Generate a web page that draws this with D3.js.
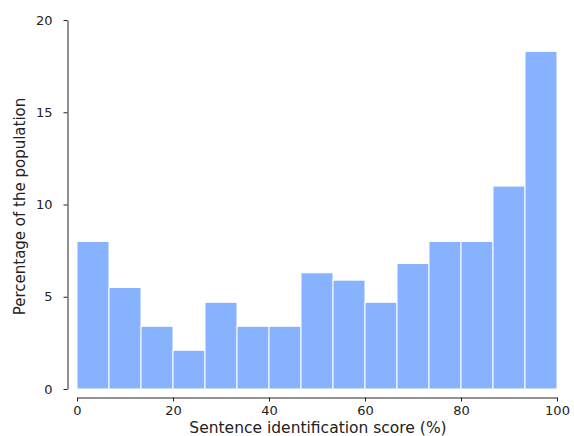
<!DOCTYPE html>
<html><head><meta charset="utf-8">
<script src="https://cdn.jsdelivr.net/npm/d3@7"></script>
<style>body{margin:0;background:#fff;} text{font-family:"DejaVu Sans",sans-serif;}</style>
</head><body>
<svg id="c" width="574" height="436"></svg>
<script>
const binEdges = d3.range(16).map(i => i * 100 / 15);
const percentages = [8.0, 5.5, 3.4, 2.1, 4.7, 3.4, 3.4, 6.3, 5.9, 4.7, 6.8, 8.0, 8.0, 11.0, 18.3];
const xTicks = [0, 20, 40, 60, 80, 100];
const yTicks = [0, 5, 10, 15, 20];
const xLabel = "Sentence identification score (%)";
const yLabel = "Percentage of the population";

const svg = d3.select("#c");
const x = d3.scaleLinear().domain([0, 100]).range([77, 557]);
const y = d3.scaleLinear().domain([0, 20]).range([389, 20]);

svg.append("g").selectAll("rect").data(percentages).join("rect")
  .attr("x", (d, i) => x(binEdges[i]))
  .attr("width", (d, i) => x(binEdges[i + 1]) - x(binEdges[i]))
  .attr("y", d => y(d))
  .attr("height", d => y(0) - y(d))
  .attr("fill", "#87b3fe")
  .attr("stroke", "#fff").attr("stroke-width", 1);

const yAxis = svg.append("g").attr("transform", "translate(67.5,0)")
  .call(d3.axisLeft(y).tickValues(yTicks).tickSize(4).tickPadding(11).tickSizeOuter(0));
const xAxis = svg.append("g").attr("transform", "translate(0,397.5)")
  .call(d3.axisBottom(x).tickValues(xTicks).tickSize(4).tickPadding(4).tickSizeOuter(0));
[yAxis, xAxis].forEach(a => {
  a.selectAll("text").attr("font-size", 13).attr("fill", "#222").attr("font-family", "DejaVu Sans");
  a.selectAll("line,path").attr("stroke", "#222");
});

svg.append("text").attr("x", 318).attr("y", 433).attr("text-anchor", "middle")
  .attr("font-size", 15.5).attr("fill", "#222").text(xLabel);
svg.append("text").attr("transform", "translate(25,206.5) rotate(-90)").attr("text-anchor", "middle")
  .attr("font-size", 15).attr("fill", "#222").text(yLabel);
</script>
</body></html>
